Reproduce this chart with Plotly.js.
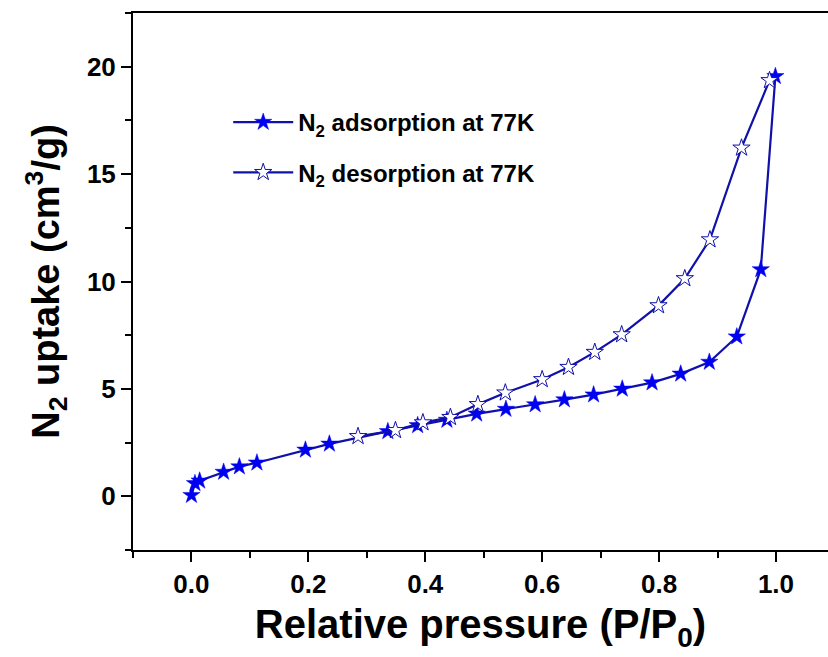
<!DOCTYPE html>
<html>
<head>
<meta charset="utf-8">
<script src="https://cdn.plot.ly/plotly-3.0.1.min.js"></script>
<style>html,body{margin:0;padding:0;background:#fff;}#chart{width:828px;height:657px;}</style>
</head>
<body>
<div id="chart"></div>
<script>
const adsP = [0.000, 0.006, 0.014, 0.055, 0.082, 0.112, 0.195, 0.236, 0.336, 0.387, 0.437, 0.488, 0.538, 0.588, 0.638, 0.688, 0.737, 0.788, 0.837, 0.886, 0.933, 0.974, 0.999];
const adsV = [0.05, 0.60, 0.72, 1.13, 1.38, 1.56, 2.16, 2.44, 3.02, 3.30, 3.55, 3.84, 4.06, 4.27, 4.50, 4.73, 5.00, 5.29, 5.70, 6.25, 7.43, 10.56, 19.55];
const desP = [0.989, 0.941, 0.887, 0.844, 0.799, 0.736, 0.690, 0.645, 0.600, 0.537, 0.490, 0.443, 0.396, 0.349, 0.285];
const desV = [19.36, 16.22, 11.95, 10.14, 8.88, 7.53, 6.71, 6.01, 5.44, 4.82, 4.28, 3.68, 3.43, 3.07, 2.79];
const xTicks = [0.0, 0.2, 0.4, 0.6, 0.8, 1.0];
const xTickText = ['0.0', '0.2', '0.4', '0.6', '0.8', '1.0'];
const yTicks = [0, 5, 10, 15, 20];

const lineColor = '#1010aa';
const markColor = '#0000f0';
const font = 'Liberation Sans, Arial, sans-serif';

const traces = [
  {
    x: adsP, y: adsV, type: 'scatter', mode: 'lines+markers',
    name: 'N<sub>2</sub> adsorption at 77K', legendgroup: 'a',
    line: {color: lineColor, width: 2.2},
    marker: {symbol: 'star', size: 13, color: markColor, line: {color: markColor, width: 0.5}}
  },
  {
    x: desP, y: desV, type: 'scatter', mode: 'lines+markers',
    name: 'N<sub>2</sub> desorption at 77K', legendgroup: 'b',
    line: {color: lineColor, width: 2.2},
    marker: {symbol: 'star', size: 13, color: '#ffffff', line: {color: lineColor, width: 1}}
  }
];

const layout = {
  width: 828, height: 657,
  margin: {l: 133, r: 0, t: 13, b: 107},
  paper_bgcolor: '#fff', plot_bgcolor: '#fff',
  showlegend: true,
  legend: {
    x: 0.137, y: 0.838, xanchor: 'left', yanchor: 'top',
    bgcolor: 'rgba(0,0,0,0)', borderwidth: 0,
    font: {family: font, size: 24, color: '#000', weight: 'bold'},
    itemwidth: 60, tracegroupgap: 16
  },
  xaxis: {
    range: [-0.1, 1.089], showgrid: false, zeroline: false,
    tickmode: 'array', tickvals: xTicks, ticktext: xTickText,
    ticks: 'outside', ticklen: 10, tickwidth: 2, tickcolor: '#000',
    showline: true, linewidth: 2, linecolor: '#000', mirror: true,
    minor: {dtick: 0.1, ticks: 'outside', ticklen: 6, tickwidth: 2, tickcolor: '#000', showgrid: false},
    tickfont: {family: font, size: 26, color: '#000', weight: 'bold'},
    title: {text: 'Relative pressure (P/P<sub>0</sub>)', standoff: 12,
      font: {family: font, size: 40, color: '#000', weight: 'bold'}}
  },
  yaxis: {
    range: [-2.5, 22.5], showgrid: false, zeroline: false,
    tickmode: 'array', tickvals: yTicks,
    ticks: 'outside', ticklen: 10, tickwidth: 2, tickcolor: '#000',
    ticklabelstandoff: 0,
    showline: true, linewidth: 2, linecolor: '#000', mirror: false,
    minor: {dtick: 2.5, ticks: 'outside', ticklen: 6, tickwidth: 2, tickcolor: '#000', showgrid: false},
    tickfont: {family: font, size: 26, color: '#000', weight: 'bold'},
    title: {text: 'N<sub>2</sub> uptake (cm<sup>3</sup>/g)', standoff: 16,
      font: {family: font, size: 38, color: '#000', weight: 'bold'}}
  }
};

Plotly.newPlot('chart', traces, layout, {displayModeBar: false, staticPlot: true});
</script>
</body>
</html>
